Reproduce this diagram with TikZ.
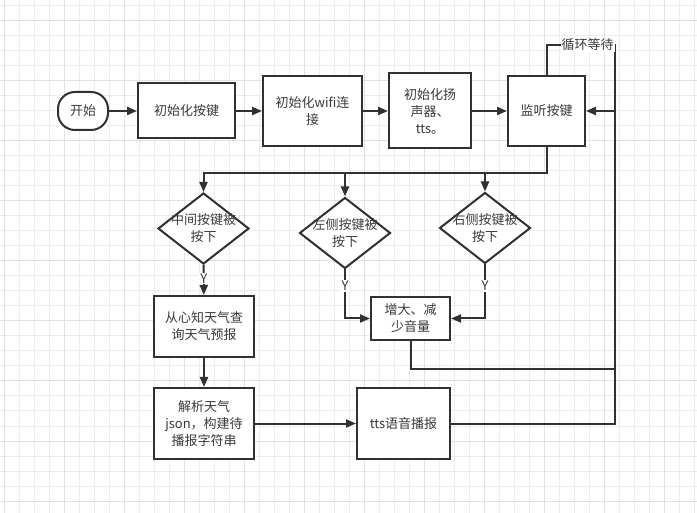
\documentclass[tikz,border=0pt]{standalone}
\usepackage{fontspec}
\setmainfont{Noto Sans CJK SC}
\usepackage{tikz}
\usetikzlibrary{arrows.meta,positioning,shapes.geometric}
\definecolor{linec}{HTML}{2F3133}
\definecolor{textc}{HTML}{3A3A3A}
\definecolor{gridc}{HTML}{EDEDED}
\definecolor{gridd}{HTML}{E2E2E2}

\begin{document}
\begin{tikzpicture}[x=1pt,y=-1pt,->,>={Triangle[length=10pt,width=8pt]},
		line width=2pt,draw=linec,
		every node/.style={text=textc,font=\fontsize{13}{17}\selectfont,align=center},
		proc/.style={rectangle,draw=linec,fill=white,inner sep=0pt},
		term/.style={proc,rounded corners=17pt},
		decision/.style={diamond,draw=linec,fill=white,inner sep=0pt,
			minimum width=91pt,minimum height=71pt},
		yes/.style={fill=white,inner sep=1pt},
		flow/.style={draw=linec,line width=2pt}]
		
		\useasboundingbox (0,0) rectangle (697,513);
		\fill[white] (0,0) rectangle (697,513);
		\foreach \x in {4,19,...,697} \draw[-,gridc,line width=1pt] (\x,0) -- (\x,513);
		\foreach \y in {6,21,...,513} \draw[-,gridc,line width=1pt] (0,\y) -- (697,\y);
		\foreach \x in {4,64,...,697} \draw[-,gridd,line width=1pt] (\x,0) -- (\x,513);
		\foreach \y in {21,81,...,513} \draw[-,gridd,line width=1pt] (0,\y) -- (697,\y);
		
		% top row
		\node[term,minimum width=50pt,minimum height=38pt] (start) at (83,111) {开始};
		\node[proc,minimum width=97pt,minimum height=55pt] (initkey) at (186.5,111) {初始化按键};
		\node[proc,minimum width=99pt,minimum height=70pt] (initwifi) at (312.5,111) {初始化wifi连\\接};
		\node[proc,minimum width=82pt,minimum height=75pt] (initspk) at (430,111) {初始化扬\\声器、\\tts。};
		\node[proc,minimum width=77pt,minimum height=70pt] (listen) at (546.5,111) {监听按键};
		
		% decisions
		\node[decision,label={[text=textc]center:中间按键被\\按下}] (dmid) at (203.5,228.5) {};
		\node[decision,label={[text=textc]center:左侧按键被\\按下}] (dleft) at (345,233) {};
		\node[decision,label={[text=textc]center:右侧按键被\\按下}] (dright) at (485,228) {};
		
		% actions
		\node[proc,minimum width=100pt,minimum height=61pt] (weather) at (204,326.5) {从心知天气查\\询天气预报};
		\node[proc,minimum width=100pt,minimum height=71pt] (parse) at (204,423.5) {解析天气\\json，构建待\\播报字符串};
		\node[proc,minimum width=79pt,minimum height=43pt] (vol) at (410.5,318.5) {增大、减\\少音量};
		\node[proc,minimum width=93pt,minimum height=71pt] (speak) at (403.5,423.5) {tts语音播报};
		
		\coordinate[below=26pt of listen.south] (split);
		\coordinate (loopin) at (615,111);
		\coordinate (looptop) at (615,45);
		\coordinate (volret) at (615,369);
		
		\path[flow]
		(start) edge (initkey)
		(initkey) edge (initwifi)
		(initwifi) edge (initspk)
		(initspk) edge (listen)
		(dmid) edge node[yes,pos=0.45] {Y} (weather)
		(weather) edge (parse)
		(parse) edge (speak);
		
		\draw[flow] (listen.south) -- (split) -| (dmid.north);
		\draw[flow] (split) -| (dleft.north);
		\draw[flow] (split) -| (dright.north);
		\draw[flow] (dleft.south) |- node[yes,pos=0.17] {Y} (vol.west);
		\draw[flow] (dright.south) |- node[yes,pos=0.2] {Y} (vol.east);
		
		% loop back
		\draw[flow] (speak.east) -| (loopin) -- (listen.east);
		\draw[flow,-] (vol.south) |- (volret);
		\draw[flow,-] (listen.north) |- node[pos=0.8,fill=white,inner sep=1pt] {循环等待} (looptop) -- (loopin);
\end{tikzpicture}
\end{document}
